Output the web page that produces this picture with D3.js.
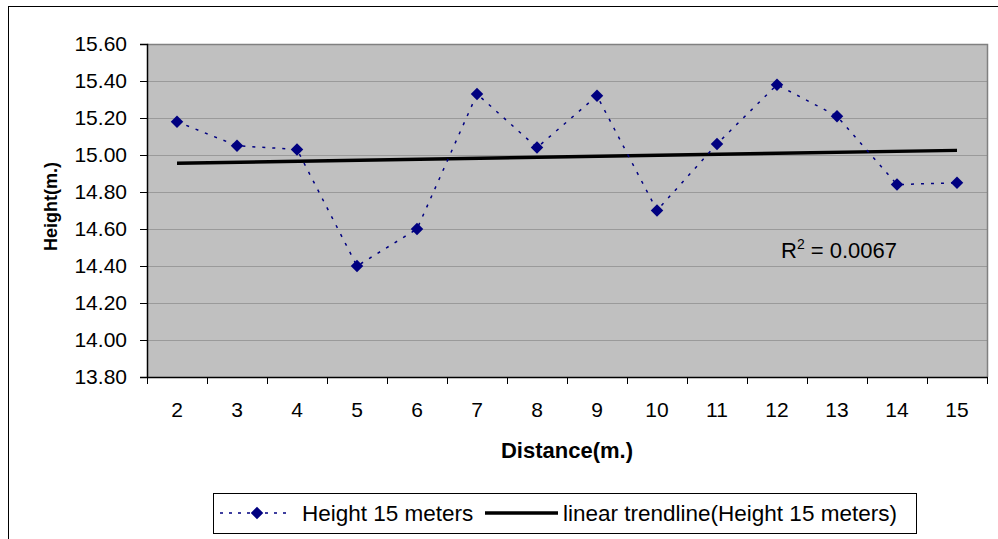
<!DOCTYPE html>
<html>
<head>
<meta charset="utf-8">
<script src="https://cdn.jsdelivr.net/npm/d3@7"></script>
<style>
  body { margin: 0; background: #fff; }
  svg { display: block; font-family: "Liberation Sans", Arial, sans-serif; }
</style>
</head>
<body>
<div id="chart"></div>
<script>
// data
const distances = ['2', '3', '4', '5', '6', '7', '8', '9', '10', '11', '12', '13', '14', '15'];
const heights = [15.18, 15.05, 15.03, 14.40, 14.60, 15.33, 15.04, 15.32, 14.70, 15.06, 15.38, 15.21, 14.84, 14.85];
const trendEnds = [14.955, 15.025];   // trendline value at first and last distance
const yTicks = [13.8, 14.0, 14.2, 14.4, 14.6, 14.8, 15.0, 15.2, 15.4, 15.6];
const seriesName = 'Height 15 meters';
const trendName = 'linear trendline(Height 15 meters)';
const rSquared = '0.0067';

const W = 998, H = 539;
const plot = { left: 147, top: 44, right: 987, bottom: 377 };

const svg = d3.select('#chart').append('svg')
    .attr('width', W)
    .attr('height', H);

// outer chart frame (runs off the bottom and right of the picture)
svg.append('rect')
    .attr('x', 8.5).attr('y', 6.5)
    .attr('width', W + 10).attr('height', H + 10)
    .attr('fill', '#fff')
    .attr('stroke', '#000')
    .attr('stroke-width', 1);

const x = d3.scaleBand()
    .domain(distances)
    .range([plot.left, plot.right])
    .paddingInner(0).paddingOuter(0);

const y = d3.scaleLinear()
    .domain([13.8, 15.6])
    .range([plot.bottom, plot.top]);

const cx = d => x(d) + x.bandwidth() / 2;

// plot background
svg.append('rect')
    .attr('x', plot.left).attr('y', plot.top)
    .attr('width', plot.right - plot.left)
    .attr('height', plot.bottom - plot.top)
    .attr('fill', '#c0c0c0');

// gridlines
svg.append('g')
    .selectAll('line')
    .data(yTicks.slice(1))
  .enter().append('line')
    .attr('x1', plot.left).attr('x2', plot.right)
    .attr('y1', d => Math.round(y(d)) + 0.5)
    .attr('y2', d => Math.round(y(d)) + 0.5)
    .attr('stroke', '#9a9a9a')
    .attr('stroke-width', 1);

// top / right plot edge
svg.append('path')
    .attr('d', `M${plot.left},${plot.top + 0.5}H${plot.right + 0.5}V${plot.bottom}`)
    .attr('fill', 'none')
    .attr('stroke', '#808080')
    .attr('stroke-width', 1.5);

// y axis
const yAxis = svg.append('g')
    .attr('transform', `translate(${plot.left},0)`)
    .call(d3.axisLeft(y).tickValues(yTicks).tickFormat(d3.format('.2f')).tickSize(7).tickPadding(13));
yAxis.select('.domain').attr('stroke', '#000').attr('stroke-width', 1.5);
yAxis.selectAll('.tick line').attr('stroke', '#000');
yAxis.selectAll('text')
    .attr('font-size', 21)
    .attr('font-family', '"Liberation Sans", Arial, sans-serif')
    .attr('fill', '#000');

// x axis: labels at band centres, ticks at band edges
const xAxis = svg.append('g')
    .attr('transform', `translate(0,${plot.bottom})`)
    .call(d3.axisBottom(x).tickSize(0).tickPadding(25));
xAxis.select('.domain').attr('stroke', '#000').attr('stroke-width', 1.5);
xAxis.selectAll('text')
    .attr('font-size', 21)
    .attr('font-family', '"Liberation Sans", Arial, sans-serif')
    .attr('fill', '#000');

const edges = distances.map(d => x(d)).concat([x(distances[distances.length - 1]) + x.bandwidth()]);
xAxis.selectAll('.edge')
    .data(edges)
  .enter().append('line')
    .attr('class', 'edge')
    .attr('x1', d => Math.round(d) + 0.5).attr('x2', d => Math.round(d) + 0.5)
    .attr('y1', 0).attr('y2', 7)
    .attr('stroke', '#000');

// trendline
svg.append('line')
    .attr('x1', cx(distances[0]))
    .attr('x2', cx(distances[distances.length - 1]))
    .attr('y1', y(trendEnds[0]))
    .attr('y2', y(trendEnds[1]))
    .attr('stroke', '#000')
    .attr('stroke-width', 3.5);

// series line
const line = d3.line()
    .x((d, i) => cx(distances[i]))
    .y(d => y(d));

svg.append('path')
    .datum(heights)
    .attr('d', line)
    .attr('fill', 'none')
    .attr('stroke', '#000080')
    .attr('stroke-width', 1.5)
    .attr('stroke-dasharray', '3,7');

const diamond = d3.symbol().type(d3.symbolSquare).size(78);

svg.append('g')
    .selectAll('path')
    .data(heights)
  .enter().append('path')
    .attr('d', diamond)
    .attr('transform', (d, i) => `translate(${cx(distances[i])},${y(d)}) rotate(45)`)
    .attr('fill', '#000080');

// R squared label
const r2 = svg.append('text')
    .attr('x', 781)
    .attr('y', 258)
    .attr('font-size', 22)
    .attr('fill', '#000');
r2.append('tspan').text('R');
r2.append('tspan').attr('dy', -9).attr('font-size', 14).text('2');
r2.append('tspan').attr('dy', 9).text(' = ' + rSquared);

// axis titles
svg.append('text')
    .attr('x', (plot.left + plot.right) / 2)
    .attr('y', 458)
    .attr('text-anchor', 'middle')
    .attr('font-size', 22)
    .attr('font-weight', 'bold')
    .text('Distance(m.)');

svg.append('text')
    .attr('transform', `translate(57,${(plot.top + plot.bottom) / 2 - 4}) rotate(-90)`)
    .attr('text-anchor', 'middle')
    .attr('font-size', 18)
    .attr('font-weight', 'bold')
    .text('Height(m.)');

// legend
const legend = svg.append('g');
legend.append('rect')
    .attr('x', 213.5).attr('y', 493.5)
    .attr('width', 703).attr('height', 40)
    .attr('fill', '#fff')
    .attr('stroke', '#000');

legend.append('line')
    .attr('x1', 220).attr('x2', 292)
    .attr('y1', 513).attr('y2', 513)
    .attr('stroke', '#000080')
    .attr('stroke-width', 1.5)
    .attr('stroke-dasharray', '3,6');
legend.append('path')
    .attr('d', diamond)
    .attr('transform', 'translate(257,513) rotate(45)')
    .attr('fill', '#000080');
legend.append('text')
    .attr('x', 302).attr('y', 521)
    .attr('font-size', 22.5)
    .text(seriesName);

legend.append('line')
    .attr('x1', 485).attr('x2', 558)
    .attr('y1', 513).attr('y2', 513)
    .attr('stroke', '#000')
    .attr('stroke-width', 3.5);
legend.append('text')
    .attr('x', 563).attr('y', 521)
    .attr('font-size', 22.5)
    .text(trendName);
</script>
</body>
</html>
